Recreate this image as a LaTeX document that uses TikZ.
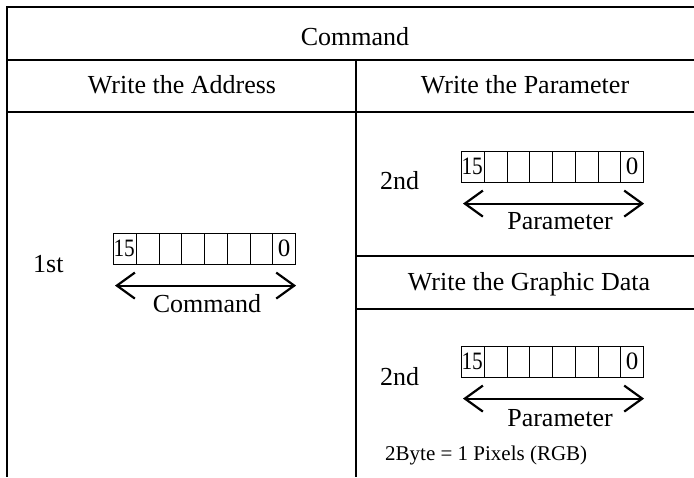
\documentclass[tikz,border=0pt]{standalone}
\usepackage{fontspec}
\setmainfont{Liberation Serif}
\usetikzlibrary{arrows.meta}

\tikzset{
	frame line/.style={line width=1.6pt},
	cell/.style={draw, line width=1.1pt, minimum width=22.75pt, minimum height=30.5pt,
		inner sep=0pt, anchor=north west},
	bigtext/.style={font=\fontsize{26}{30}\selectfont, inner sep=0pt},
	bittext/.style={font=\fontsize{25}{28}\selectfont, inner sep=0.5pt},
	smalltext/.style={font=\fontsize{21}{25}\selectfont, inner sep=0pt},
	span arrow/.style={line width=2.2pt,
		{Straight Barb[length=18pt,width=26pt]}-{Straight Barb[length=18pt,width=26pt]}},
}

% 16-bit register: name, x, y of top left corner
\newcommand{\bitreg}[3]{
	\foreach \i in {0,...,7} {
		\node[cell] (#1-\i) at ({#2+\i*22.75},#3) {};
	}
	\node[bittext, anchor=west, xscale=0.85, transform shape] (#1-hi) at (#1-0.west) {15};
	\node[bittext] (#1-lo) at (#1-7) {0};
	\path (#1-0.south west) ++(2,21) coordinate (#1-l);
	\path (#1-7.south east) ++(0,21) coordinate (#1-r);
	\draw[span arrow] (#1-l) -- (#1-r);
}

\begin{document}
\begin{tikzpicture}[x=1pt, y=-1pt]
	\useasboundingbox (0,0) rectangle (694,477);
	
	% table frame
	\draw[frame line] (694,7) -| (7,477);
	\draw[frame line] (7,60) -- (694,60);
	\draw[frame line] (7,112) -- (694,112);
	\draw[frame line] (356,60) -- (356,477);
	\draw[frame line] (356,256) -- (694,256);
	\draw[frame line] (356,309) -- (694,309);
	
	% headers
	\node[bigtext, anchor=base] (cmdhead) at (355,45) {Command};
	\node[bigtext, anchor=base] (addrhead) at (182,93) {Write the Address};
	\node[bigtext, anchor=base] (parhead) at (525,93) {Write the Parameter};
	\node[bigtext, anchor=base] (gfxhead) at (529,290) {Write the Graphic Data};
	
	% address write
	\node[bigtext, anchor=base west] (first) at (33,272) {1st};
	\bitreg{addr}{113}{233}
	\node[bigtext, anchor=base] (addrname) at (207,312) {Command};
	
	% parameter write
	\node[bigtext, anchor=base west] (second) at (380,189) {2nd};
	\bitreg{par}{461}{151}
	\node[bigtext, anchor=base] (parname) at (560,229) {Parameter};
	
	% graphic data write
	\node[bigtext, anchor=base west] (gfxsecond) at (380,385) {2nd};
	\bitreg{gfx}{461}{346}
	\node[bigtext, anchor=base] (gfxname) at (560,426) {Parameter};
	\node[smalltext, anchor=base west] (pixnote) at (385,460) {2Byte = 1 Pixels (RGB)};
\end{tikzpicture}
\end{document}
